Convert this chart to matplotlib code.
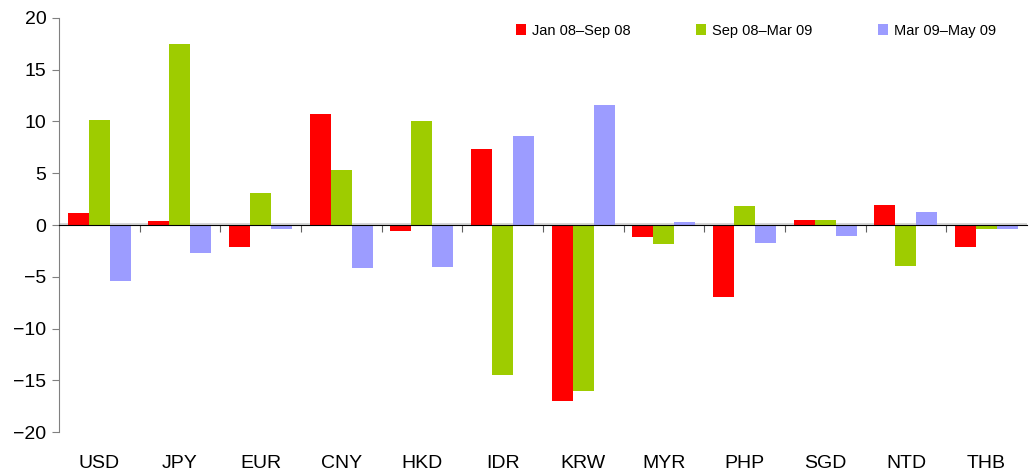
import numpy as np
import matplotlib
matplotlib.use('Agg')
import matplotlib.pyplot as plt
import matplotlib.transforms as mtransforms

# --- Data ---
currencies = ["USD", "JPY", "EUR", "CNY", "HKD", "IDR", "KRW", "MYR", "PHP", "SGD", "NTD", "THB"]
jan08_sep08 = [1.2, 0.4, -2.1, 10.7, -0.6, 7.3, -17.0, -1.2, -7.0, 0.5, 1.9, -2.1]
sep08_mar09 = [10.1, 17.5, 3.1, 5.3, 10.0, -14.5, -16.0, -1.8, 1.8, 0.5, -4.0, -0.4]
mar09_may09 = [-5.4, -2.7, -0.4, -4.2, -4.1, 8.6, 11.6, 0.3, -1.7, -1.1, 1.3, -0.4]
series_labels = ["Jan 08\u2013Sep 08", "Sep 08\u2013Mar 09", "Mar 09\u2013May 09"]
colors = ["#FF0000", "#9ECC00", "#9C9CFF"]

plt.rcParams['font.family'] = ['Liberation Sans', 'DejaVu Sans']

fig = plt.figure(figsize=(10.29, 4.76), dpi=100)
ax = fig.add_axes([0.0573, 0.0924, 0.9407, 0.8698])

x = np.arange(len(currencies))
w = 0.26
for i, (vals, lab, c) in enumerate(zip([jan08_sep08, sep08_mar09, mar09_may09], series_labels, colors)):
    ax.bar(x + (i - 1) * w, vals, width=w, color=c, label=lab, zorder=2)

ax.set_xlim(-0.5, len(currencies) - 0.5)
ax.set_ylim(-20, 20)
ax.set_yticks(np.arange(-20, 21, 5))
ax.tick_params(axis='y', labelsize=14, length=5, color='#808080', pad=4)

# --- Spines ---
ax.spines['top'].set_visible(False)
ax.spines['right'].set_visible(False)
ax.spines['left'].set_color('#808080')
ax.spines['bottom'].set_position(('data', 0))
ax.spines['bottom'].set_color('black')
ax.spines['bottom'].set_zorder(3)
ax.axhline(0.12, color='#D0D0D0', lw=1.2, zorder=1)

# category boundary ticks on the zero line
ax.set_xticks(np.arange(0.5, len(currencies) - 0.5, 1))
ax.tick_params(axis='x', length=5, color='#606060', direction='out', labelbottom=False)

# category labels sit at the bottom of the plot, not on the zero line
trans = mtransforms.blended_transform_factory(ax.transData, ax.transAxes)
for xi, name in zip(x, currencies):
    ax.text(xi, -0.075, name, transform=trans, ha='center', va='center', fontsize=14)

ax.legend(loc='upper right', bbox_to_anchor=(0.982, 1.018), ncol=3, frameon=False,
          fontsize=10.5, handlelength=0.7, handleheight=0.7, handletextpad=0.4,
          columnspacing=4.5)

plt.savefig('out.png', dpi=100)
